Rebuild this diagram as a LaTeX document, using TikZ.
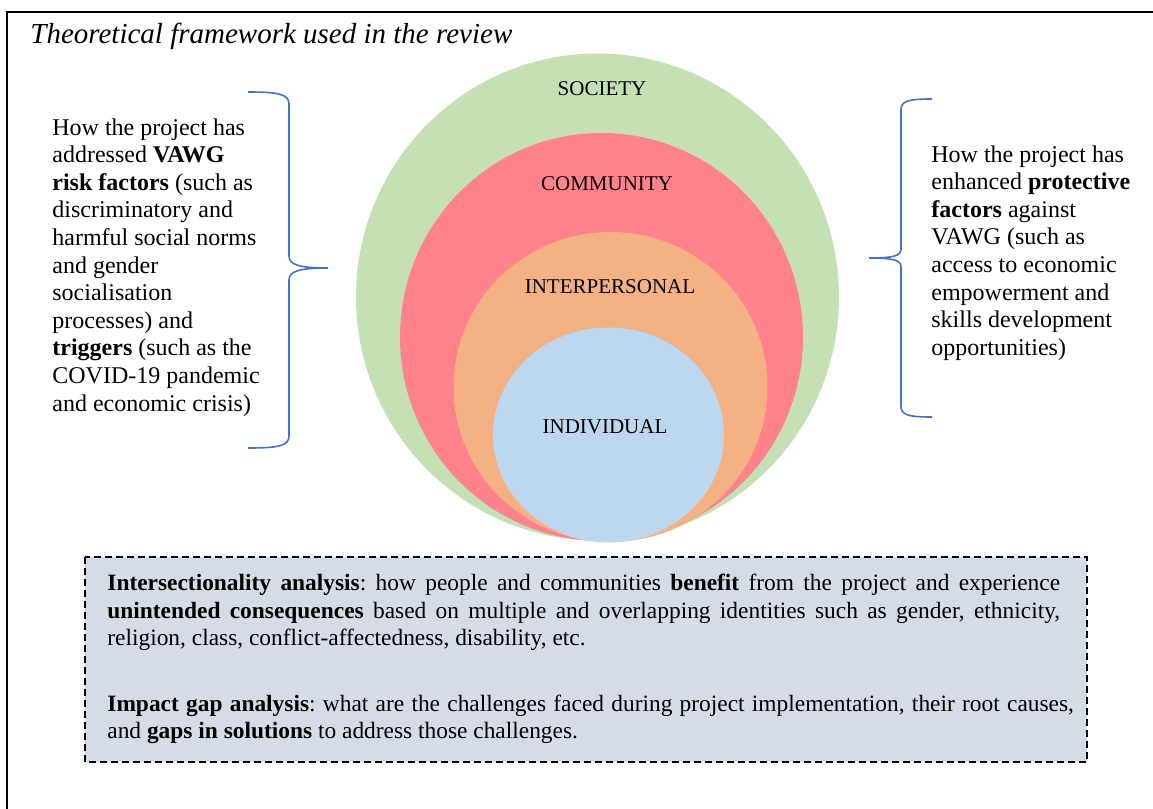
\documentclass[tikz,border=0pt]{standalone}
\usepackage{fontspec}
\setmainfont{Liberation Serif}
\definecolor{societygreen}{HTML}{C5E0B4}
\definecolor{communitypink}{HTML}{FF828D}
\definecolor{interorange}{HTML}{F4B183}
\definecolor{individualblue}{HTML}{BDD7EE}
\definecolor{gapgrey}{HTML}{D6DCE5}
\definecolor{braceblue}{HTML}{4472C4}
\begin{document}
\begin{tikzpicture}[x=0.5pt, y=-0.5pt,
		layerlabel/.style={font=\fontsize{10.5}{12}\selectfont, inner sep=0pt},
		sidetext/.style={font=\fontsize{12}{13.8}\selectfont, align=left, inner sep=0pt, anchor=north west},
		bracepath/.style={draw=braceblue, line width=0.8pt},
		gapbox/.style={draw, fill=gapgrey, line width=0.85pt, dash pattern=on 3.5pt off 2pt}]
	\useasboundingbox (0,0) rectangle (1153,809);
	%rahmen
	\draw[line width=0.75pt] (7,12) rectangle (1170,830);
	\node[font=\fontsize{14.5}{17}\selectfont\itshape, anchor=base west, inner sep=0pt] (title) at (30,43) {Theoretical framework used in the review};
	%kreise
	\foreach \cx/\cy/\rx/\ry/\col in {597.5/297/120.75pt/121.75pt/societygreen, 601.5/337/100.75pt/102pt/communitypink, 610.5/387/78.5pt/77.5pt/interorange, 608.5/435/57.75pt/53.75pt/individualblue} {
		\fill[\col] (\cx,\cy) ellipse [x radius=\rx, y radius=\ry];
	}
	\node[layerlabel] (society) at (602,89) {SOCIETY};
	\node[layerlabel] (community) at (607,184) {COMMUNITY};
	\node[layerlabel] (interpersonal) at (610,287) {INTERPERSONAL};
	\node[layerlabel] (individual) at (605,427) {INDIVIDUAL};
	%links
	\node[sidetext] (risktext) at (52,118) {How the project has\\addressed \textbf{VAWG}\\\textbf{risk factors} (such as\\discriminatory and\\harmful social norms\\and gender\\socialisation\\processes) and\\\textbf{triggers} (such as the\\COVID-19 pandemic\\and economic crisis)};
	\draw[bracepath] (248,92) .. controls (278,92) and (289,94) .. (289,104) -- (289,256) .. controls (289,265) and (300,268) .. (328,268) .. controls (300,268) and (289,271) .. (289,280) -- (289,436) .. controls (289,446) and (278,448) .. (248,448);
	%rechts
	\node[sidetext] (protecttext) at (931,145) {How the project has\\enhanced \textbf{protective}\\\textbf{factors} against\\VAWG (such as\\access to economic\\empowerment and\\skills development\\opportunities)};
	\draw[bracepath] (932,99) .. controls (908,99) and (901,101) .. (901,110) -- (901,249) .. controls (901,256) and (893,258) .. (869,258) .. controls (893,258) and (901,260) .. (901,267) -- (901,406) .. controls (901,415) and (908,417) .. (932,417);
	%analyse
	\draw[gapbox] (85,557) rectangle (1087,762);
	\node[font=\fontsize{11.7}{13.75}\selectfont, text width=488pt, anchor=north west, inner sep=0pt] (gaptext) at (107,574) {\frenchspacing\tolerance=9999\hyphenpenalty=10000
		\spaceskip=0.25em plus 0.3em minus 0.11em
		\textbf{Intersectionality analysis}: how people and communities \textbf{benefit} from the project and experience\linebreak
		\textbf{unintended consequences} based on multiple and overlapping identities such as gender, ethnicity,\linebreak
		religion, class, conflict-affectedness, disability, etc.\par\vspace{19pt}
		\textbf{Impact gap analysis}: what are the challenges faced during project implementation, their root causes,\linebreak
		and \textbf{gaps in solutions} to address those challenges.};
\end{tikzpicture}
\end{document}
